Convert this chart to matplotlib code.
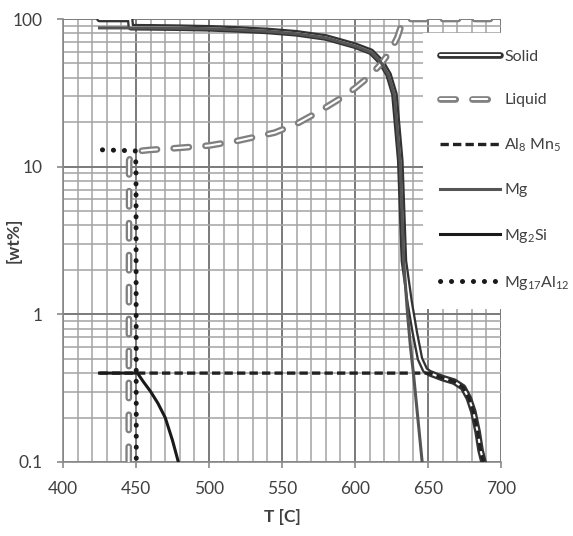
import matplotlib
matplotlib.use("Agg")
import matplotlib.pyplot as plt
import matplotlib.patheffects as pe
from matplotlib.ticker import MultipleLocator, LogLocator, FixedLocator, FuncFormatter, NullFormatter

plt.rcParams["font.family"] = ["Lato", "DejaVu Sans"]
plt.rcParams["mathtext.default"] = "regular"
plt.rcParams["lines.scale_dashes"] = False

# phase fractions [wt%] vs temperature [C]
solid_t = [425, 446, 446.5, 460, 480, 500, 520, 540, 560, 580, 600, 611, 618, 623, 627,
           631, 633.5, 637.5, 641, 644.5, 648, 651, 660, 668, 674, 678, 681, 684, 686, 688]
solid_wt = [100, 100, 88, 87.8, 87.3, 86.5, 85, 83, 80, 75, 66, 60, 51, 42, 31,
            11, 2.3, 1.2, 0.75, 0.5, 0.42, 0.4, 0.37, 0.35, 0.32, 0.27, 0.22, 0.16, 0.12, 0.1]

liquid_t = [445, 445.3, 447, 450, 460, 475, 500, 520, 545, 560, 575, 590, 600, 610,
            618, 624, 629, 632, 634, 700]
liquid_wt = [0.1, 11, 12.2, 12.7, 13, 13.3, 13.9, 15, 17, 19.5, 23.5, 29, 34, 41,
             50, 60, 75, 92, 100, 100]

al8mn5_t = [425, 651, 660, 668, 674, 678, 681, 684, 686, 688]
al8mn5_wt = [0.4, 0.4, 0.37, 0.35, 0.32, 0.27, 0.22, 0.16, 0.12, 0.1]

mg_t = [425, 446, 460, 480, 500, 520, 540, 560, 580, 600, 611, 618, 623, 627,
        631, 633.5, 636, 638, 640, 643, 646]
mg_wt = [87, 87, 87, 86.5, 86, 84.5, 82.5, 79.5, 74.5, 65.5, 59.5, 50.5, 41.5, 30.5,
         10.5, 2.2, 1.0, 0.6, 0.4, 0.2, 0.1]

mg2si_t = [425, 451, 455, 460, 465, 470, 475, 479]
mg2si_wt = [0.4, 0.4, 0.35, 0.3, 0.25, 0.2, 0.14, 0.1]

mg17al12_t = [427, 449.5, 450, 450.2]
mg17al12_wt = [13, 12.8, 10, 0.1]

x_ticks = [400, 450, 500, 550, 600, 650, 700]
y_ticks = [0.1, 1, 10, 100]

fig = plt.figure(figsize=(5.73, 5.36), dpi=100)
ax = fig.add_axes([63 / 573, 1 - 462 / 536, 438 / 573, 443 / 536])
ax.set_yscale("log")
ax.set_xlim(400, 700)
ax.set_ylim(0.1, 100)

ax.plot(solid_t, solid_wt, color="white", lw=1.5, solid_capstyle="round",
        path_effects=[pe.Stroke(linewidth=4.8, foreground="#333333"), pe.Normal()],
        label="Solid", zorder=3)
ax.plot(liquid_t, liquid_wt, color="white", lw=1.5, dashes=(11, 12),
        dash_capstyle="round",
        path_effects=[pe.Stroke(linewidth=4.8, foreground="#808080"), pe.Normal()],
        label="Liquid", zorder=3)
ax.plot(al8mn5_t, al8mn5_wt, color="#222222", lw=2.4, dashes=(6, 3),
        label="Al$_8$ Mn$_5$", zorder=4)
ax.plot(mg_t, mg_wt, color="#555555", lw=2.2, label="Mg", zorder=4)
ax.plot(mg2si_t, mg2si_wt, color="#1a1a1a", lw=2.2, label="Mg$_2$Si", zorder=4)
ax.plot(mg17al12_t, mg17al12_wt, color="#1a1a1a", lw=3.6, dashes=(0.1, 7.8),
        dash_capstyle="round", label="Mg$_{17}$Al$_{12}$", zorder=4)

ax.xaxis.set_major_locator(FixedLocator(x_ticks))
ax.xaxis.set_minor_locator(MultipleLocator(10))
ax.yaxis.set_major_locator(FixedLocator(y_ticks))
ax.yaxis.set_minor_locator(LogLocator(base=10, subs=range(2, 10)))
ax.yaxis.set_major_formatter(FuncFormatter(lambda v, _: f"{v:g}"))
ax.yaxis.set_minor_formatter(NullFormatter())

ax.grid(which="major", color="#7a7a7a", lw=1.4)
ax.grid(which="minor", color="#a3a3a3", lw=1.1)
ax.set_axisbelow(True)
for side in ("top", "right"):
    ax.spines[side].set_visible(False)
for side in ("left", "bottom"):
    ax.spines[side].set_color("#8a8a8a")
    ax.spines[side].set_linewidth(1.2)

ax.tick_params(which="major", direction="out", length=4, width=1.2, color="#8a8a8a",
               labelsize=12.5, labelcolor="#404040")
ax.tick_params(axis="x", pad=10)
ax.tick_params(axis="y", pad=11)
ax.tick_params(which="minor", length=0)

ax.set_xlabel("T [C]", fontsize=12.5, fontweight="bold", color="#404040", labelpad=8)
ax.set_ylabel("[wt%]", fontsize=12.5, fontweight="bold", color="#404040")
ax.yaxis.set_label_coords(-0.095, 0.5)

leg = ax.legend(loc="upper left", bbox_to_anchor=(423 / 573, 1 - 33 / 536),
                bbox_transform=fig.transFigure, borderaxespad=0, borderpad=1.05,
                fontsize=11.5, handlelength=3.75, handletextpad=0.3,
                labelspacing=1.83, frameon=True, fancybox=False)
leg.get_frame().set_facecolor("white")
leg.get_frame().set_edgecolor("none")
leg.get_frame().set_alpha(1)
for t in leg.get_texts():
    t.set_color("#404040")

fig.savefig("out.png", dpi=100)
